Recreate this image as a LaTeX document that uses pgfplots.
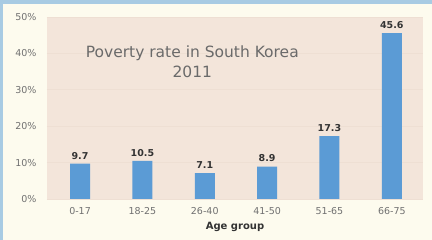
\documentclass[border=0pt]{standalone}
\usepackage{pgfplots}
\pgfplotsset{compat=1.18}
\usepackage{fontspec}
\setmainfont{DejaVu Sans}
\definecolor{outerbg}{HTML}{FDFBEE}
\definecolor{plotbg}{HTML}{F3E5DA}
\definecolor{barblue}{HTML}{5B9BD5}
\definecolor{frameblue}{HTML}{A8CBE3}
\definecolor{ticktext}{HTML}{707070}
\definecolor{titletext}{HTML}{6A6A6A}
\definecolor{gridc}{HTML}{EEDFD3}
\begin{document}
\begin{tikzpicture}[x=1pt,y=1pt]
\fill[outerbg] (0,0) rectangle (432,240);
\fill[frameblue] (0,236) rectangle (432,240);
\fill[frameblue] (0,0) rectangle (3,240);
\useasboundingbox (0,0) rectangle (432,240);
\begin{axis}[
  at={(47pt,41pt)}, anchor=south west,
  scale only axis, width=376pt, height=182pt,
  xmin=-0.53, xmax=5.5, ymin=0, ymax=50,
  axis background/.style={fill=plotbg},
  axis line style={draw=none},
  xtick=data,
  xticklabels={0-17,18-25,26-40,41-50,51-65,66-75},
  ytick={0,10,20,30,40,50},
  yticklabels={0\%,10\%,20\%,30\%,40\%,50\%},
  ymajorgrids, grid style={gridc, line width=0.6pt},
  major tick length=0pt,
  tick label style={font=\fontsize{9.5}{11}\selectfont, text=ticktext},
  yticklabel style={xshift=-7pt},
  xticklabel style={yshift=-5pt},
  xlabel={\bfseries Age group},
  xlabel style={font=\fontsize{10}{12}\selectfont, text=black!80, yshift=-1pt},
  ybar, bar width=20pt,
  nodes near coords,
  nodes near coords style={font=\fontsize{9.5}{11}\selectfont\bfseries, text=black!80, /pgf/number format/assume math mode=true, yshift=1pt},
  /pgf/number format/fixed, /pgf/number format/precision=1,
  /pgf/number format/fixed zerofill,
]
\addplot[fill=barblue, draw=none] coordinates {(0,9.7) (1,10.5) (2,7.1) (3,8.9) (4,17.3) (5,45.6)};
\node[font=\fontsize{15.5}{20}\selectfont, text=titletext, align=center] at (axis cs:1.8,37.6) {Poverty rate in South Korea\\2011};
\end{axis}
\end{tikzpicture}
\end{document}
